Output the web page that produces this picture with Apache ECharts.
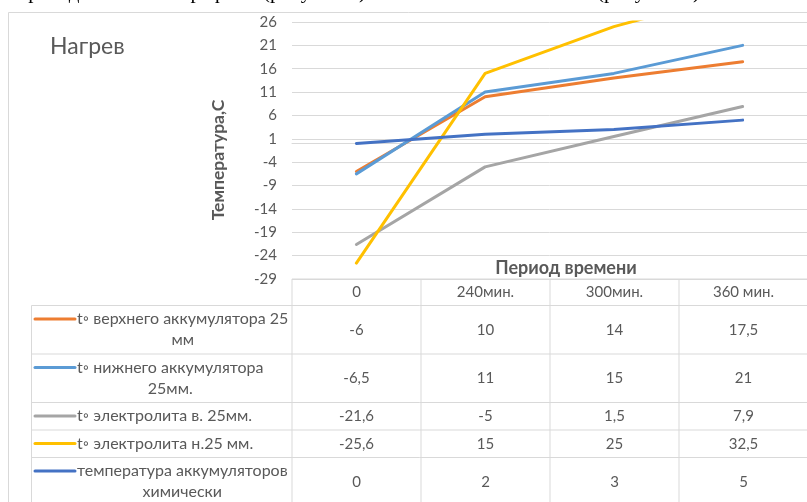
<!DOCTYPE html>
<html>
<head>
<meta charset="utf-8">
<script src="https://cdn.jsdelivr.net/npm/echarts@6/dist/echarts.min.js"></script>
<style>
  html, body { margin: 0; padding: 0; background: #ffffff; }
  #chart { width: 807px; height: 502px; }
</style>
</head>
<body>
<div id="chart"></div>
<script>
// Time points (header row of the data table)
const periods = ['0', '240мин.', '300мин.', '360 мин.'];

// Series names, and how each one wraps inside the table's legend column
const seriesNames = [
  't◦ верхнего аккумулятора 25 мм',
  't◦ нижнего аккумулятора 25мм.',
  't◦ электролита в. 25мм.',
  't◦ электролита н.25 мм.',
  'температура аккумуляторов химически'
];
const legendLines = [
  ['t◦ верхнего аккумулятора 25', 'мм'],
  ['t◦ нижнего аккумулятора', '25мм.'],
  ['t◦ электролита в. 25мм.'],
  ['t◦ электролита н.25 мм.'],
  ['температура аккумуляторов', 'химически']
];

// Temperatures, °C
const upperBattery     = [-6, 10, 14, 17.5];
const lowerBattery     = [-6.5, 11, 15, 21];
const electrolyteUpper = [-21.6, -5, 1.5, 7.9];
const electrolyteLower = [-25.6, 15, 25, 32.5];
const chemicalHeating  = [0, 2, 3, 5];

// Value axis range and step
const yMin = -29;
const yMax = 26;
const yStep = 5;

const seriesData = [upperBattery, lowerBattery, electrolyteUpper, electrolyteLower, chemicalHeating];
const colors = ['#ED7D31', '#5B9BD5', '#A5A5A5', '#FFC000', '#4472C4'];

const FONT = 'Lato, "Noto Sans", sans-serif';
const TEXT = '#595959';
const RULE = '#d9d9d9';

// Plot area
const G = { left: 292, top: 22, width: 516, height: 257 };

const chart = echarts.init(document.getElementById('chart'), null, { renderer: 'canvas' });

const measureCtx = document.createElement('canvas').getContext('2d');
function textWidth(str, font) {
  measureCtx.font = font;
  return measureCtx.measureText(str).width;
}
const fmt = v => String(v).replace('.', ',');

function buildTable() {
  const els = [];
  const band = G.width / periods.length;
  const colX = i => G.left + i * band;
  const headerTop = G.top + G.height;
  const headerH = 26.5;
  const legendLeft = 31.5;
  const lineStyle = { stroke: RULE, lineWidth: 1 };

  // header row
  els.push({ type: 'line', shape: { x1: G.left, y1: headerTop, x2: G.left + G.width, y2: headerTop }, style: lineStyle, silent: true });
  periods.forEach((p, i) => {
    els.push({
      type: 'text', x: colX(i) + band / 2, y: headerTop + headerH / 2,
      style: { text: p, font: '15px ' + FONT, fill: TEXT, align: 'center', verticalAlign: 'middle' }, silent: true
    });
  });

  // rows
  let top = headerTop + headerH;
  const legendFont = '16px ' + FONT;
  const keyX1 = 35, keyX2 = 75, textLeft = 77;
  seriesData.forEach((vals, r) => {
    const lines = legendLines[r];
    const h = 6.5 + 21 * lines.length;
    els.push({ type: 'line', shape: { x1: legendLeft, y1: top, x2: G.left + G.width, y2: top }, style: lineStyle, silent: true });
    // legend key
    els.push({ type: 'line', shape: { x1: keyX1, y1: top + 13.5, x2: keyX2, y2: top + 13.5 }, style: { stroke: colors[r], lineWidth: 3, lineCap: 'round' }, silent: true });
    // legend text, lines centred on the widest one
    const maxW = Math.max(...lines.map(l => textWidth(l, legendFont)));
    lines.forEach((l, k) => {
      els.push({
        type: 'text', x: textLeft + maxW / 2, y: top + 13.5 + 21 * k,
        style: { text: l, font: legendFont, fill: TEXT, align: 'center', verticalAlign: 'middle' }, silent: true
      });
    });
    // values
    vals.forEach((v, i) => {
      els.push({
        type: 'text', x: colX(i) + band / 2, y: top + h / 2,
        style: { text: fmt(v), font: '15px ' + FONT, fill: TEXT, align: 'center', verticalAlign: 'middle' }, silent: true
      });
    });
    top += h;
  });
  els.push({ type: 'line', shape: { x1: legendLeft, y1: top, x2: G.left + G.width, y2: top }, style: lineStyle, silent: true });

  // vertical rules
  els.push({ type: 'line', shape: { x1: legendLeft, y1: headerTop + headerH, x2: legendLeft, y2: top }, style: lineStyle, silent: true });
  for (let i = 0; i <= periods.length; i++) {
    els.push({ type: 'line', shape: { x1: colX(i), y1: headerTop, x2: colX(i), y2: top }, style: lineStyle, silent: true });
  }
  return els;
}

// Lower edge of the preceding paragraph of the page
const pageText = [
  { x: 17, text: 'приведены' },
  { x: 182, text: 'графики' },
  { x: 263, text: '(рисунок 5)' },
  { x: 597, text: '(рисунок 6)' }
];

const graphicEls = [
  // chart frame
  { type: 'rect', shape: { x: 8.5, y: 12.5, width: 820, height: 520 }, style: { fill: null, stroke: RULE, lineWidth: 1 }, silent: true, z: -10 },
  {
    type: 'text', x: 50, y: 47,
    style: { text: 'Нагрев', font: '23px ' + FONT, fill: TEXT, align: 'left', verticalAlign: 'middle' }, silent: true
  },
  {
    type: 'text', x: 566, y: 268,
    style: { text: 'Период времени', font: 'bold 18px ' + FONT, fill: TEXT, align: 'center', verticalAlign: 'middle' }, silent: true
  },
  {
    type: 'text', x: 218, y: 160, rotation: Math.PI / 2,
    style: { text: 'Температура,С', font: 'bold 17.5px ' + FONT, fill: TEXT, align: 'center', verticalAlign: 'middle' }, silent: true
  }
].concat(pageText.map(p => ({
  type: 'text', x: p.x, y: 3,
  style: { text: p.text, font: '21px "Liberation Serif", serif', fill: '#000', align: 'left', verticalAlign: 'bottom' }, silent: true
}))).concat(buildTable());

chart.setOption({
  animation: false,
  backgroundColor: '#ffffff',
  grid: { left: G.left, top: G.top, width: G.width, height: G.height, containLabel: false },
  xAxis: {
    type: 'category',
    data: periods,
    boundaryGap: true,
    axisLine: { onZero: true, lineStyle: { color: RULE, width: 1 } },
    axisTick: { show: false },
    axisLabel: { show: false },
    splitLine: { show: false }
  },
  yAxis: {
    type: 'value',
    min: yMin,
    max: yMax,
    interval: yStep,
    axisLine: { show: false },
    axisTick: { show: false },
    axisLabel: { color: TEXT, fontFamily: FONT, fontSize: 15, margin: 15 },
    splitLine: { lineStyle: { color: RULE, width: 1 } }
  },
  series: seriesNames.map((name, i) => ({
    name,
    type: 'line',
    data: seriesData[i],
    showSymbol: false,
    symbol: 'none',
    clip: true,
    lineStyle: { color: colors[i], width: 3, cap: 'round', join: 'round' },
    itemStyle: { color: colors[i] },
    z: 2 + i
  })),
  graphic: { elements: graphicEls }
});
</script>
</body>
</html>
